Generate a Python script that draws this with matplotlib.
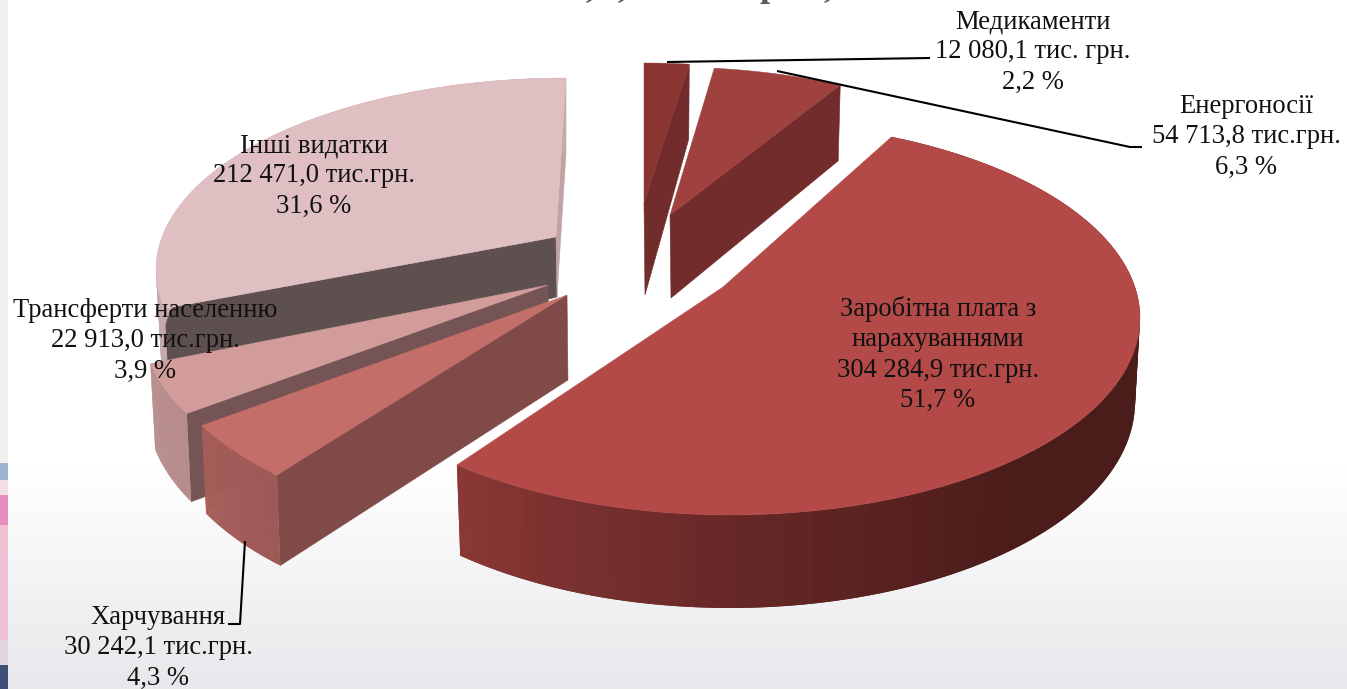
import numpy as np
import matplotlib
matplotlib.use("Agg")
import matplotlib.pyplot as plt
from matplotlib.colors import to_rgb
from matplotlib.patches import Polygon

plt.rcParams["font.family"] = ["Liberation Serif", "DejaVu Serif"]

# Data as printed on the chart, clockwise from 12 o'clock
names = ["Медикаменти", "Енергоносії", "Заробітна плата з\nнарахуваннями",
         "Харчування", "Трансферти населенню", "Інші видатки"]
amounts = ["12 080,1 тис. грн.", "54 713,8 тис.грн.", "304 284,9 тис.грн.",
           "30 242,1 тис.грн.", "22 913,0 тис.грн.", "212 471,0 тис.грн."]
shares = [2.2, 6.3, 51.7, 4.3, 3.9, 31.6]
title_bits = [",", ",", "р", ","]

# Look of each slice, same order as the data
apex = [(644, 203), (670, 215), (723, 287), (567, 295), (548, 285), (556, 237)]
apex_depth = [92, 83, 88, 85, 88, 60]
centre = [(644, 260), (669, 264), (730, 318), (567, 336), (552, 324), (566, 270)]
rim_b = [197, 197, 197, 197, 197, 192]
turn = [(0, 0), (0, 0), (-1.5, -3.3), (0, 0), (0, 0), (0, 0)]
top_col = ["#8a3532", "#9f413e", "#b44a48", "#c46e6a", "#d19c99", "#dfbfc1"]
start_wall = [None, None, None, "#804a49", "#745454", "#5f5050"]
end_wall = ["#722c2b", "#722c2b", None, None, None, "#c0a3a5"]
rim_stops = [
    None,
    None,
    [(20, "#4a1c1a"), (135, "#4a1c1a"), (180, "#672827"), (226, "#8e3a37")],
    [(220, "#9b5855"), (245, "#a85e5a")],
    [(240, "#b58886"), (260, "#b58886")],
    [(255, "#c6a9ab"), (275, "#c6a9ab")],
]
label_pos = [(1033, 28), (1246, 113), (938, 316), (158, 624), (145, 317), (314, 152)]
draw_order = [5, 4, 3, 0, 1, 2]

A = 410           # half width of the pie top
K = 0.8           # perspective squeeze of the angles
LINE_H = 30.4


def to_phi(theta):
    t = np.radians(theta) / 2
    return np.degrees(2 * np.arctan2(K * np.sin(t), np.cos(t)))


def rim_xy(c, b, phi):
    p = np.radians(phi)
    return c[0] + A * np.sin(p), c[1] - b * np.cos(p)


def lower(c, x, y, phi):
    # bottom edge sits a bit lower at the front and a bit tighter in x
    p = np.radians(phi)
    return c[0] + 0.988 * (x - c[0]), y + 84 - 9 * np.cos(p)


fig = plt.figure(figsize=(13.47, 6.89), dpi=100)
ax = fig.add_axes([0, 0, 1, 1])
ax.set_xlim(0, 1347)
ax.set_ylim(689, 0)
ax.axis("off")

# Slide background fading to grey at the bottom
fade = np.clip((np.linspace(0, 689, 300) - 470) / 219, 0, 1)[:, None, None]
bg = 1 - fade * np.array([0.09, 0.09, 0.075])
ax.imshow(bg, extent=[0, 1347, 689, 0], aspect="auto", zorder=0)

# Piece of the neighbouring slide along the left edge
strip = [(0, 463, "#f1f0f1"), (463, 480, "#9db3d2"), (480, 495, "#f2dfe6"),
         (495, 525, "#e58fc0"), (525, 640, "#efbfd4"), (640, 665, "#e3d3dc"),
         (665, 689, "#3e4f78")]
for y0, y1, c in strip:
    ax.fill_between([0, 8], y0, y1, color=c, lw=0, zorder=1)

edges = np.cumsum([0] + shares) * 360 / sum(shares)

for z, i in enumerate(draw_order):
    a = apex[i]
    c = centre[i]
    th0, th1 = edges[i], edges[i + 1]
    phis = np.linspace(to_phi(th0) + turn[i][0], to_phi(th1) + turn[i][1], 120)
    xs, ys = rim_xy(c, rim_b[i], phis)
    low = lower(c, xs, ys, phis)
    a_low = (a[0] + 1, a[1] + apex_depth[i])
    zo = 3 + z

    # Cut faces
    if start_wall[i]:
        ax.add_patch(Polygon([(xs[0], ys[0]), a, a_low, (low[0][0], low[1][0])],
                             fc=start_wall[i], ec=start_wall[i], lw=0.4, zorder=zo))
    if end_wall[i]:
        ax.add_patch(Polygon([(xs[-1], ys[-1]), a, a_low, (low[0][-1], low[1][-1])],
                             fc=end_wall[i], ec=end_wall[i], lw=0.4, zorder=zo))

    # Outer wall, shaded along the arc; each strip overlaps the next so no seams show
    if rim_stops[i]:
        sp = [s[0] for s in rim_stops[i]]
        rgb = np.array([to_rgb(s[1]) for s in rim_stops[i]])
        for j in range(len(phis) - 1):
            col = [np.interp(phis[j], sp, rgb[:, n]) for n in range(3)]
            k = min(j + 2, len(phis) - 1)
            ax.add_patch(Polygon([(xs[j], ys[j]), (xs[k], ys[k]),
                                  (low[0][k], low[1][k]), (low[0][j], low[1][j])],
                                 fc=col, ec="none", zorder=zo))

    # Top face
    top = list(zip(xs, ys)) + [a]
    ax.add_patch(Polygon(top, fc=top_col[i], ec=top_col[i], lw=0.3, zorder=zo))

# Leader lines
leaders = [([667, 930], [62, 58]),
           ([777, 1130, 1142], [71, 147, 147]),
           ([245, 240, 228], [541, 624, 624])]
for lx, ly in leaders:
    ax.plot(lx, ly, color="black", lw=1.5, zorder=12, solid_capstyle="butt")

# Labels
for i in range(len(names)):
    lines = names[i].split("\n") + [amounts[i], f"{shares[i]:.1f}".replace(".", ",") + " %"]
    for n, line in enumerate(lines):
        ax.text(label_pos[i][0], label_pos[i][1] + n * LINE_H, line, ha="center", va="baseline",
                fontsize=19.2, color="#111111", zorder=20)

# What is left of the slide title, cut by the top of the picture
for x, s in zip([590, 622, 770, 828], title_bits):
    ax.text(x, -4, s, ha="center", va="baseline", fontsize=26, fontweight="bold",
            color="#595959", zorder=20, clip_on=True)

fig.savefig("out.png", dpi=100)
